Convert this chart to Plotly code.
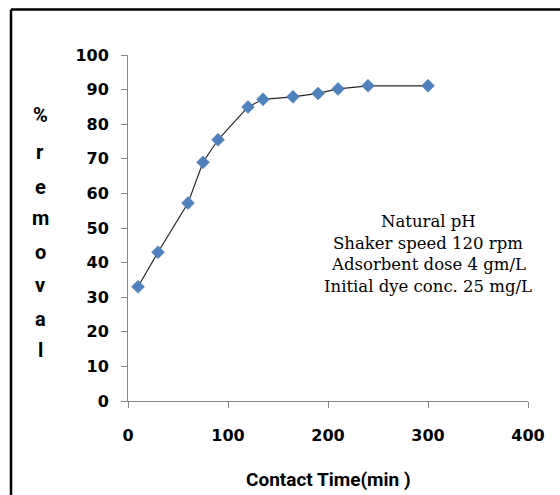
import plotly.graph_objects as go

time_min = [10, 30, 60, 75, 90, 120, 135, 165, 190, 210, 240, 300]
removal_pct = [33, 43, 57.2, 69, 75.5, 85, 87.2, 87.9, 88.9, 90.2, 91.1, 91.1]
x_ticks = [0, 100, 200, 300, 400]
y_ticks = [0, 10, 20, 30, 40, 50, 60, 70, 80, 90, 100]
ylabel_letters = ["%", "r", "e", "m", "o", "v", "a", "l"]
info_lines = ["Natural pH", "Shaker speed 120 rpm", "Adsorbent dose 4 gm/L", "Initial dye conc. 25 mg/L"]

W, H = 560, 495
L, R, T, B = 128, 32, 55, 94
pw, ph = W - L - R, H - T - B

def px(xp):
    return (xp - L) / pw

def py(yp):
    return (H - B - yp) / ph

fig = go.Figure()
fig.add_trace(go.Scatter(
    x=time_min, y=removal_pct, mode="lines+markers",
    line=dict(color="#262626", width=1.2),
    marker=dict(symbol="diamond", size=10, color="#4F81BD",
                line=dict(color="#4F81BD", width=0.5)),
    showlegend=False,
))

tickfont = dict(family="DejaVu Sans", size=16, color="#000000", weight="bold")
fig.update_xaxes(range=[0, 400], tickvals=x_ticks, showgrid=False, zeroline=False,
                 showline=True, linecolor="#868686", linewidth=1,
                 ticks="outside", ticklen=6, tickcolor="#868686",
                 tickfont=tickfont, ticklabelstandoff=14)
fig.update_yaxes(range=[0, 100], tickvals=y_ticks, showgrid=False, zeroline=False,
                 showline=True, linecolor="#868686", linewidth=1,
                 ticks="outside", ticklen=6, tickcolor="#868686",
                 tickfont=tickfont, ticklabelstandoff=9)

cond = "Roboto, sans-serif"
annotations = []
letter_y = [115, 152, 187, 218, 252, 285, 319, 350]
for ch, yp in zip(ylabel_letters, letter_y):
    annotations.append(dict(
        text=ch, x=px(40), y=py(yp), xref="paper", yref="paper",
        showarrow=False, xanchor="center", yanchor="middle",
        font=dict(family=cond, size=20, color="#000000", weight="bold"),
    ))
annotations.append(dict(
    text="Contact Time(min )", x=px(328), y=py(479), xref="paper", yref="paper",
    showarrow=False, xanchor="center", yanchor="middle",
    font=dict(family=cond, size=19, color="#000000", weight="bold"),
))
info_y = [221, 243, 264, 286]
for line, yp in zip(info_lines, info_y):
    annotations.append(dict(
        text=line, x=px(428), y=py(yp), xref="paper", yref="paper",
        showarrow=False, xanchor="center", yanchor="middle",
        font=dict(family="DejaVu Serif", size=16.5, color="#000000"),
    ))

shapes = [
    dict(type="line", xref="paper", yref="paper", x0=px(11), x1=px(11), y0=py(9.5), y1=py(520),
         line=dict(color="#000000", width=2.5)),
    dict(type="line", xref="paper", yref="paper", x0=px(11), x1=px(600), y0=py(9.5), y1=py(9.5),
         line=dict(color="#000000", width=2.5)),
]

fig.update_layout(
    width=W, height=H, margin=dict(l=L, r=R, t=T, b=B),
    plot_bgcolor="white", paper_bgcolor="white",
    annotations=annotations, shapes=shapes,
)
fig.write_html("out.html")
